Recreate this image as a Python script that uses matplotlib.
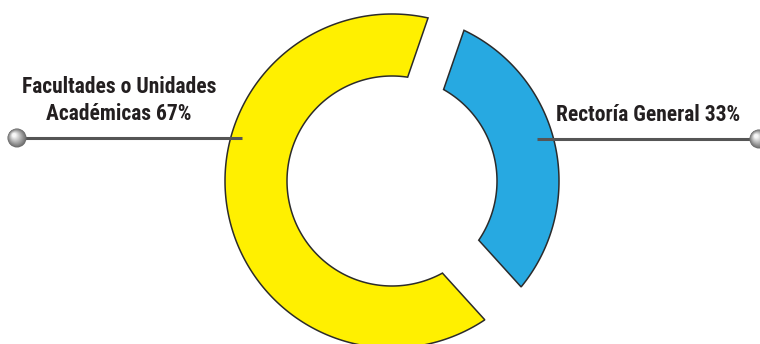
import numpy as np
import matplotlib
matplotlib.use("Agg")
import matplotlib.pyplot as plt
from matplotlib.patches import Polygon, Circle
from matplotlib import font_manager

# ---- data ----
categories = ["Rectoría General", "Facultades o Unidades\nAcadémicas"]
values = [33, 67]
colors = ["#27A9E1", "#FFF000"]

# ---- layout ----
W, H = 760, 344
cx, cy = 392, 181
R_out, R_in = 167, 105
start_angle = 71.0          # degrees, blue starts here, clockwise
gap_half = [19.0, 24.5]     # half-width (px) of the gap at the start of each segment

fig = plt.figure(figsize=(W / 100, H / 100), dpi=100)
ax = fig.add_axes([0, 0, 1, 1])
ax.set_xlim(0, W)
ax.set_ylim(H, 0)
ax.set_aspect("equal")
ax.axis("off")

names = {f.name for f in font_manager.fontManager.ttflist}
prefs = ["Roboto Condensed", "Open Sans Condensed", "DejaVu Sans Condensed",
         "Liberation Sans Narrow", "Noto Sans Display", "Roboto", "DejaVu Sans"]
fam = next(p for p in prefs if p in names)

def pt(r, deg):
    a = np.deg2rad(deg)
    return cx + r * np.cos(a), cy - r * np.sin(a)

total = sum(values)
theta = start_angle
bounds = []
for v in values:
    t1 = theta
    t2 = theta - 360.0 * v / total
    bounds.append((t1, t2))
    theta = t2

n = len(values)
for i, (t1, t2) in enumerate(bounds):
    h1 = gap_half[i]
    h2 = gap_half[(i + 1) % n]
    a_out1 = t1 - np.degrees(np.arcsin(h1 / R_out))
    a_out2 = t2 + np.degrees(np.arcsin(h2 / R_out))
    a_in1 = t1 - np.degrees(np.arcsin(h1 / R_in))
    a_in2 = t2 + np.degrees(np.arcsin(h2 / R_in))
    outer = [pt(R_out, a) for a in np.linspace(a_out1, a_out2, 200)]
    inner = [pt(R_in, a) for a in np.linspace(a_in2, a_in1, 200)]
    poly = Polygon(outer + inner, closed=True, facecolor=colors[i],
                   edgecolor="#2b2b2b", linewidth=1.1, zorder=2)
    ax.add_patch(poly)

def sphere(x, y, r):
    for k in range(16):
        f = k / 15.0
        c = 0.42 + 0.55 * f
        rr = r * (1 - 0.8 * f)
        off = 0.3 * r * f
        ax.add_patch(Circle((x - off, y - off), rr, facecolor=(c, c, c),
                            edgecolor="none", zorder=5 + k * 0.01))

# leader lines
line_col = "#555555"
ax.plot([22, 242], [138, 138], color=line_col, lw=2.2, zorder=4, solid_capstyle="butt")
ax.plot([537, 757], [139, 139], color=line_col, lw=2.2, zorder=4, solid_capstyle="butt")
sphere(17, 138, 9.5)
sphere(759, 139, 9.5)

txt_col = "#231F20"
t_left = ax.text(119, 120, f"{categories[1]} {values[1]}%", ha="center", va="baseline",
                 fontsize=15.5, fontweight="bold", family=fam, color=txt_col,
                 linespacing=1.28, zorder=6)
t_right = ax.text(648, 121, f"{categories[0]} {values[0]}%", ha="center", va="baseline",
                  fontsize=15.5, fontweight="bold", family=fam, color=txt_col, zorder=6)

# fit text widths to the reference widths
fig.canvas.draw()
r = fig.canvas.get_renderer()
for t, target in [(t_left, 198), (t_right, 188)]:
    w = t.get_window_extent(r).width
    t.set_fontsize(min(15.5, 15.5 * target / w))
fig.savefig("out.png", dpi=100)
